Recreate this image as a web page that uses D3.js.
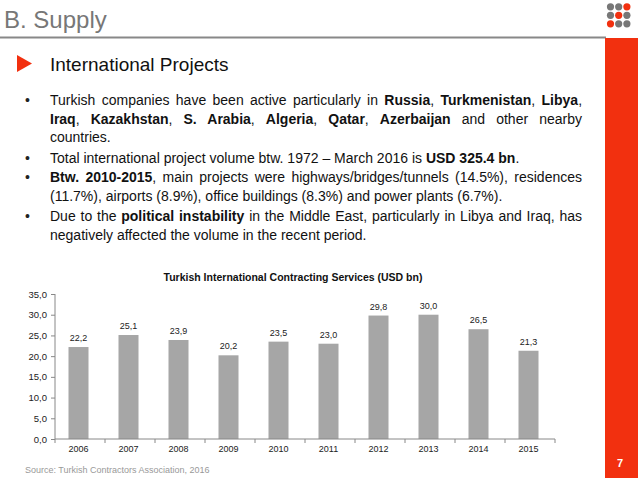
<!doctype html>
<html lang="en">
<head>
<meta charset="utf-8">
<title>B. Supply</title>
<style>
  body { margin: 0; background: #fff; font-family: "Liberation Sans", Arial, sans-serif; }
  svg { display: block; }
</style>
</head>
<body>
<svg id="slide" width="638" height="479"></svg>
<script src="https://cdn.jsdelivr.net/npm/d3@7"></script>
<script>
// chart data
const years = ["2006", "2007", "2008", "2009", "2010", "2011", "2012", "2013", "2014", "2015"];
const volumes = [22.2, 25.1, 23.9, 20.2, 23.5, 23.0, 29.8, 30.0, 26.5, 21.3];
const yTicks = [0, 5, 10, 15, 20, 25, 30, 35];
const chartTitle = "Turkish International Contracting Services (USD bn)";

// slide text: each line is a list of [text, bold] runs; just = justified line
const bulletLines = [
  { bullet: true, just: true, runs: [["Turkish companies have been active particularly in ", 0], ["Russia", 1], [", ", 0], ["Turkmenistan", 1], [", ", 0], ["Libya", 1], [",", 0]] },
  { bullet: false, just: true, runs: [["Iraq", 1], [", ", 0], ["Kazakhstan", 1], [", ", 0], ["S. Arabia", 1], [", ", 0], ["Algeria", 1], [", ", 0], ["Qatar", 1], [", ", 0], ["Azerbaijan", 1], [" and other nearby", 0]] },
  { bullet: false, just: false, runs: [["countries.", 0]] },
  { bullet: true, just: false, runs: [["Total international project volume btw. 1972 \u2013 March 2016 is ", 0], ["USD 325.4 bn", 1], [".", 0]] },
  { bullet: true, just: true, runs: [["Btw. 2010-2015", 1], [", main projects were highways/bridges/tunnels (14.5%), residences", 0]] },
  { bullet: false, just: false, runs: [["(11.7%), airports (8.9%), office buildings (8.3%) and power plants (6.7%).", 0]] },
  { bullet: true, just: true, runs: [["Due to the ", 0], ["political instability", 1], [" in the Middle East, particularly in Libya and Iraq, has", 0]] },
  { bullet: false, just: false, runs: [["negatively affected the volume in the recent period.", 0]] }
];
const lineBaselines = [105, 123.5, 142, 163, 182, 201, 221, 239.5];

const RED = "#f2300f";
const FONT = "'Liberation Sans', Arial, sans-serif";
const svg = d3.select("#slide").attr("font-family", FONT);

// header
svg.append("text").attr("x", 4).attr("y", 28)
  .attr("font-size", 24).attr("fill", "#777").text("B. Supply");
svg.append("line").attr("x1", 0).attr("x2", 606).attr("y1", 37.5).attr("y2", 37.5)
  .attr("stroke", "#888").attr("stroke-width", 2);
svg.append("rect").attr("x", 605).attr("y", 38).attr("width", 33).attr("height", 440).attr("fill", RED);
svg.append("text").attr("x", 620).attr("y", 467).attr("text-anchor", "middle")
  .attr("font-size", 11).attr("font-weight", "bold").attr("fill", "#fff").text("7");

// logo dots
const dotPattern = [0, 0, 1, 0, 1, 0, 1, 0, 0];
svg.append("g").selectAll("circle").data(dotPattern).join("circle")
  .attr("cx", (d, i) => 610.5 + (i % 3) * 8.2)
  .attr("cy", (d, i) => 6.8 + Math.floor(i / 3) * 8.5)
  .attr("r", 3.6)
  .attr("fill", d => d ? RED : "#777");

// section heading
svg.append("path").attr("d", "M17,55 L32,63.5 L17,72 Z").attr("fill", RED);
svg.append("text").attr("x", 50).attr("y", 71).attr("font-size", 19).attr("fill", "#111")
  .text("International Projects");

// bullet text
const textLeft = 50, textRight = 582;
bulletLines.forEach((ln, i) => {
  const y = lineBaselines[i];
  if (ln.bullet) {
    svg.append("text").attr("x", 25).attr("y", y).attr("font-size", 14).attr("fill", "#222").text("\u2022");
  }
  const t = svg.append("text").attr("x", textLeft).attr("y", y)
    .attr("font-size", 14).attr("fill", "#111").attr("xml:space", "preserve");
  ln.runs.forEach(r => {
    t.append("tspan").attr("font-weight", r[1] ? "bold" : "normal").text(r[0]);
  });
  if (ln.just) {
    const full = ln.runs.map(r => r[0]).join("");
    const spaces = (full.match(/ /g) || []).length;
    const natural = t.node().getComputedTextLength();
    const extra = (textRight - textLeft - natural) / spaces;
    t.style("word-spacing", extra + "px");
  }
});

// chart
const x = d3.scaleBand().domain(years).range([55, 555]).paddingInner(0.6).paddingOuter(0.3);
const y = d3.scaleLinear().domain([0, 35]).range([439, 294]);

svg.append("text").attr("x", 293).attr("y", 281).attr("text-anchor", "middle")
  .attr("font-size", 10.5).attr("font-weight", "bold").attr("fill", "#111").text(chartTitle);

const yAxis = svg.append("g").attr("transform", "translate(55,0)")
  .call(d3.axisLeft(y).tickValues(yTicks).tickSize(4).tickPadding(4)
    .tickFormat(d => d3.format(".1f")(d).replace(".", ",")));
yAxis.selectAll("text").attr("font-size", 9.5).attr("fill", "#222").attr("font-family", FONT);
yAxis.selectAll("path,line").attr("stroke", "#888");
yAxis.select(".domain").attr("d", "M0,294V439");

svg.append("g").selectAll("rect").data(volumes).join("rect")
  .attr("x", (d, i) => x(years[i]) - 1.5)
  .attr("width", x.bandwidth())
  .attr("y", d => y(d))
  .attr("height", d => y(0) - y(d))
  .attr("fill", "#a6a6a6");

svg.append("g").selectAll("text").data(volumes).join("text")
  .attr("x", (d, i) => x(years[i]) - 1.5 + x.bandwidth() / 2)
  .attr("y", d => y(d) - 6)
  .attr("text-anchor", "middle").attr("font-size", 9).attr("fill", "#222")
  .text(d => d3.format(".1f")(d).replace(".", ","));

const xAxis = svg.append("g").attr("transform", "translate(0,439)")
  .call(d3.axisBottom(x).tickSize(0).tickPadding(7));
xAxis.selectAll("text").attr("font-size", 9).attr("fill", "#222").attr("font-family", FONT)
  .attr("transform", "translate(-1.5,0)");
xAxis.select(".domain").attr("stroke", "#888").attr("d", "M55,0H555");
// category separators below the axis
xAxis.selectAll(".sep").data(d3.range(years.length + 1)).join("line").attr("class", "sep")
  .attr("x1", i => 55 + i * x.step()).attr("x2", i => 55 + i * x.step())
  .attr("y1", 0).attr("y2", 4).attr("stroke", "#888");

// source
svg.append("text").attr("x", 25).attr("y", 473).attr("font-size", 9).attr("fill", "#999")
  .text("Source: Turkish Contractors Association, 2016");
</script>
</body>
</html>
